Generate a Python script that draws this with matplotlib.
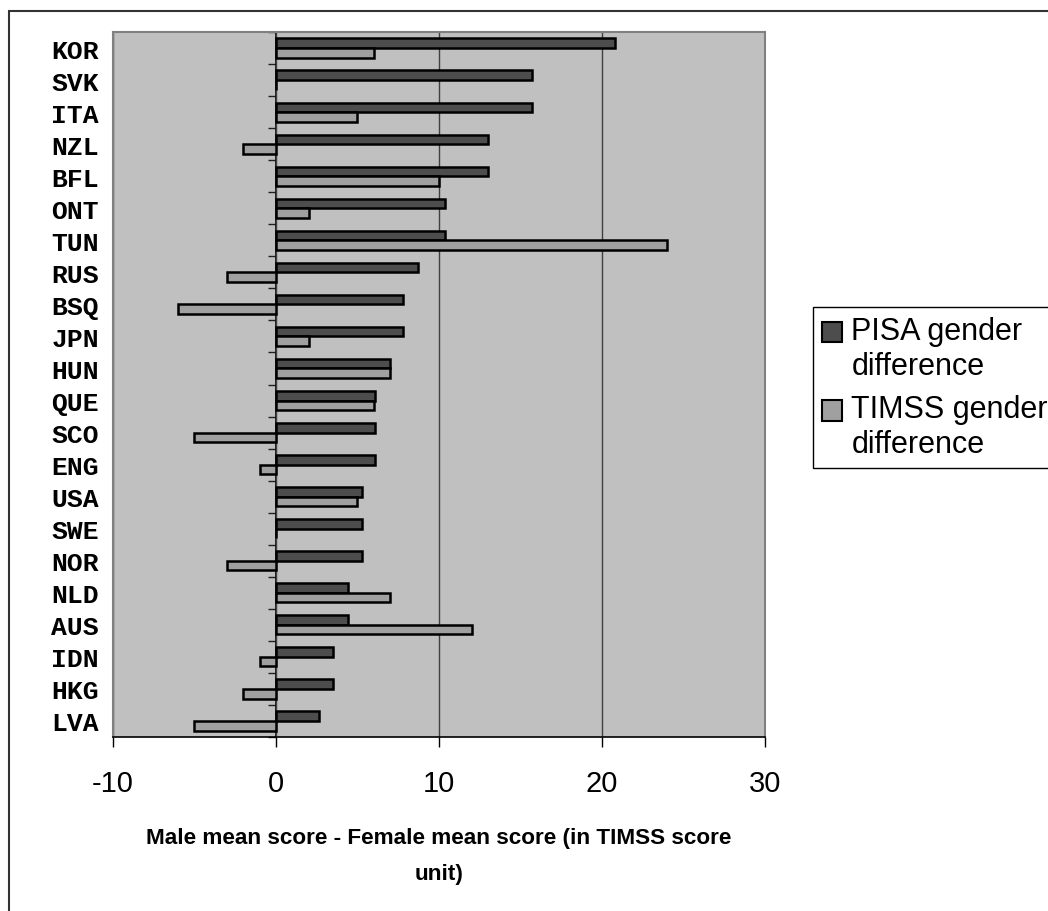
import numpy as np
import matplotlib.pyplot as plt
from matplotlib.patches import Rectangle
from matplotlib.container import BarContainer
from matplotlib.legend_handler import HandlerPatch
from matplotlib.ticker import MultipleLocator

# 国家 / 地区
countries = ['KOR', 'SVK', 'ITA', 'NZL', 'BFL', 'ONT', 'TUN', 'RUS', 'BSQ', 'JPN', 'HUN',
             'QUE', 'SCO', 'ENG', 'USA', 'SWE', 'NOR', 'NLD', 'AUS', 'IDN', 'HKG', 'LVA']
# 男生平均分 - 女生平均分
pisa_diff = [20.8, 15.7, 15.7, 13.0, 13.0, 10.4, 10.4, 8.7, 7.8, 7.8, 7.0,
             6.1, 6.1, 6.1, 5.25, 5.25, 5.25, 4.4, 4.4, 3.5, 3.5, 2.65]
timss_diff = [6.0, 0.0, 5.0, -2.0, 10.0, 2.0, 24.0, -3.0, -6.0, 2.0, 7.0,
              6.0, -5.0, -1.0, 5.0, 0.0, -3.0, 7.0, 12.0, -1.0, -2.0, -5.0]
x_ticks = [-10, 0, 10, 20, 30]
labels = ['PISA gender\ndifference', 'TIMSS gender\ndifference']
x_title = 'Male mean score - Female mean score (in TIMSS score\nunit)'

fig = plt.figure(figsize=(10.48, 9.12), dpi=100)
ax = fig.add_axes([0.1078, 0.1908, 0.6221, 0.7730])

y = np.arange(len(countries))
h = 0.3
ax.barh(y - h / 2, pisa_diff, height=h, color='#4d4d4d', edgecolor='black', linewidth=1.8,
        label=labels[0], zorder=3)
ax.barh(y + h / 2, timss_diff, height=h, color='#a0a0a0', edgecolor='black', linewidth=1.8,
        label=labels[1], zorder=3)

ax.set_facecolor('#c0c0c0')
ax.set_xlim(-10, 30)
ax.set_ylim(len(countries) - 0.5, -0.5)
ax.set_xticks(x_ticks)
ax.set_xticklabels([str(v) for v in x_ticks], fontsize=21, family='Liberation Sans')
ax.tick_params(axis='x', length=7, width=1, pad=16, color='black')
ax.set_yticks(y)
ax.set_yticklabels(countries, fontsize=19, fontweight='bold', family='Liberation Mono')
ax.tick_params(axis='y', length=0, pad=10)

ax.xaxis.grid(True, color='#404040', linewidth=1, zorder=1)
ax.set_axisbelow(True)
for s in ['left', 'right', 'top']:
    ax.spines[s].set_color('#808080')
    ax.spines[s].set_linewidth(1.5)
ax.spines['bottom'].set_color('black')
ax.spines['bottom'].set_linewidth(1.2)

# 0 处的竖轴, 类别之间的小刻度
ax0 = ax.secondary_yaxis(0.25)
ax0.set_yticks([])
ax0.yaxis.set_minor_locator(MultipleLocator(1, offset=0.5))
ax0.tick_params(which='minor', length=6, width=1, color='#202020')
ax0.spines['left'].set_color('black')
ax0.spines['left'].set_linewidth(1.2)

ax.set_xlabel(x_title, fontsize=16.2, fontweight='bold', family='Liberation Sans', labelpad=22,
              linespacing=1.9)


# 图例方块对齐第一行
def top_square(legend, orig_handle, xdescent, ydescent, width, height, fontsize):
    return Rectangle((-xdescent, -ydescent + 0.55 * fontsize), width, height)


def first_bar(legend_handle, orig_handle):
    legend_handle.update_from(orig_handle.patches[0])
    legend_handle.set_linewidth(1.5)


fig.legend(loc='upper left', bbox_to_anchor=(0.776, 0.6625), prop={'family': 'Liberation Sans', 'size': 22},
           frameon=True, fancybox=False, edgecolor='black', framealpha=1,
           handlelength=0.65, handleheight=0.65, handletextpad=0.3, labelspacing=0.45,
           borderpad=0.3, borderaxespad=0,
           handler_map={BarContainer: HandlerPatch(patch_func=top_square, update_func=first_bar)})

# 外框 (只看到上边和左边)
fig.patches.append(Rectangle((9 / 1048, -0.1), 1.2, 1 - 12 / 912 + 0.1, transform=fig.transFigure,
                             fill=False, edgecolor='#333333', linewidth=1.5))

fig.savefig('out.png', dpi=100)
